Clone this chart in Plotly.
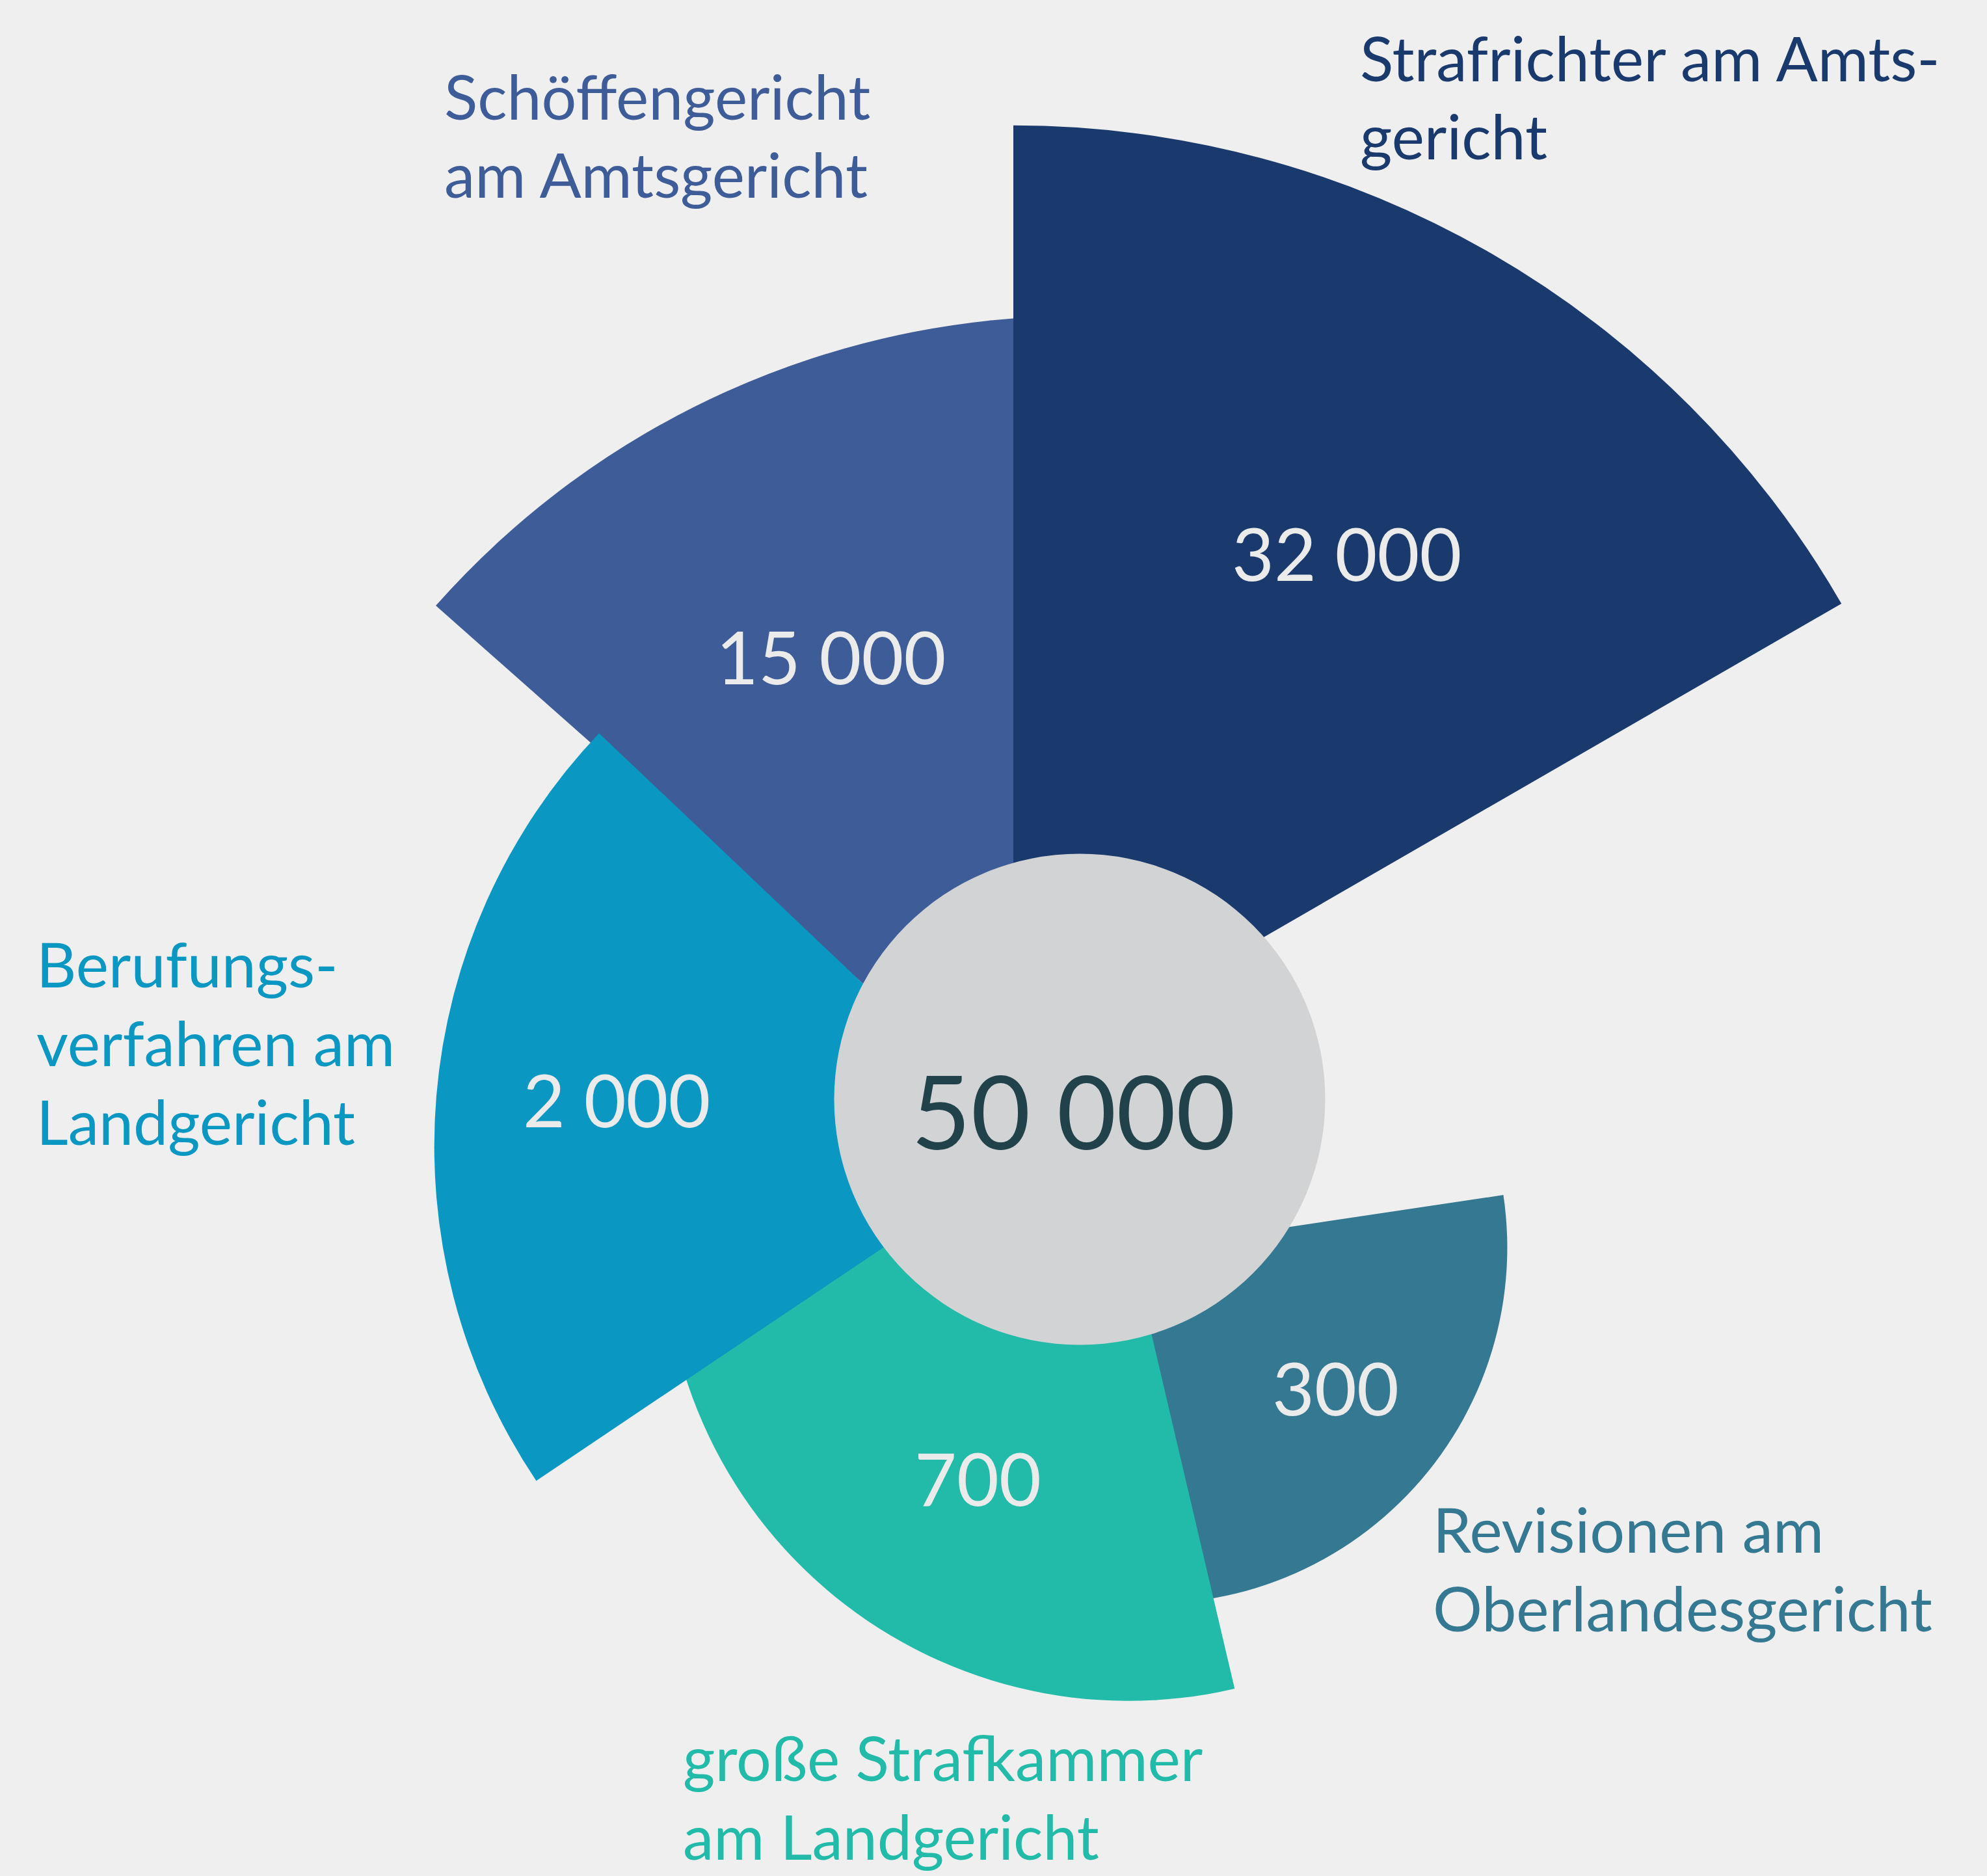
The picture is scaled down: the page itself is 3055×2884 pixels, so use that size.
import math
import plotly.graph_objects as go

# ---------------- data ----------------
categories = [
    "Strafrichter am Amtsgericht",
    "Schöffengericht am Amtsgericht",
    "Berufungsverfahren am Landgericht",
    "große Strafkammer am Landgericht",
    "Revisionen am Oberlandesgericht",
]
label_lines = [
    ["Strafrichter am Amts-", "gericht"],
    ["Schöffengericht", "am Amtsgericht"],
    ["Berufungs-", "verfahren am", "Landgericht"],
    ["große Strafkammer", "am Landgericht"],
    ["Revisionen am", "Oberlandesgericht"],
]
values = [32000, 15000, 2000, 700, 300]

# ---------------- style / layout ----------------
W, H = 3055, 2884
BG = "#EFEFEF"
colors = ["#1A3A6E", "#3E5D98", "#0A97C2", "#22BBA9", "#357891"]
VALUE_TEXT = "#EBEBEB"
TOTAL_TEXT = "#21414B"
FONT = "Lato"
LABEL_FS = 95
VALUE_FS = 112
TOTAL_FS = 158
ASC = 0.987   # font ascent (em)

# shared logarithmic radial scale
R_ORIGIN = 10 ** 1.274        # value at the centre of every sector
PX_PER_DECADE = 455

# sector geometry: vertex position (px) and angular span (deg)
geom = [
    dict(vertex=(1558, 1663), span=(30, 90)),
    dict(vertex=(1659, 1806), span=(90, 138.5)),
    dict(vertex=(1590, 1762), span=(136.5, 213.9)),
    dict(vertex=(1735, 1900), span=(175, 283.2)),
    dict(vertex=(1770, 1918), span=(-100, 8.5)),
]
draw_order = [1, 0, 4, 3, 2]

value_pos = [(2070, 849), (1277, 1009), (948, 1689), (1503, 2271), (2053, 2132)]
label_pos = [  # left x, first baseline, line step
    (2089, 124, 120),
    (681, 183, 120),
    (54, 1517, 121),
    (1048, 2737, 121),
    (2201, 2386, 121),
]
circle_c, circle_r = (1660, 1690), 377.5


def sector_bbox(s0, s1):
    arc = s1 - s0
    a0 = s0 % 360
    a1 = a0 + arc
    c = lambda a: math.cos(math.radians(a))
    s = lambda a: math.sin(math.radians(a))
    ax0, ay0, ax1, ay1 = c(a0), s(a0), c(a1), s(a1)
    if (a0 <= 90 and a1 >= 90) or (a0 > 90 and a1 >= 450):
        y1 = 1
    elif ay0 <= 0 and ay1 <= 0:
        y1 = 0
    else:
        y1 = max(ay0, ay1)
    if (a0 <= 270 and a1 >= 270) or (a0 > 270 and a1 >= 630):
        y0 = -1
    elif ay0 >= 0 and ay1 >= 0:
        y0 = 0
    else:
        y0 = min(ay0, ay1)
    if (a0 <= 0 and a1 >= 0) or (a0 > 0 and a1 >= 360):
        x1 = 1
    elif ax0 <= 0 and ax1 <= 0:
        x1 = 0
    else:
        x1 = max(ax0, ax1)
    if (a0 <= 180 and a1 >= 180) or (a0 > 180 and a1 >= 540):
        x0 = -1
    elif ax0 >= 0 and ax1 >= 0:
        x0 = 0
    else:
        x0 = min(ax0, ax1)
    return x0, y0, x1, y1


def clamp(v):
    return min(1.0, max(0.0, v))


fig = go.Figure()
polars = {}
lo = math.log10(R_ORIGIN)
for k, idx in enumerate(draw_order):
    pid = "polar" if k == 0 else f"polar{k + 1}"
    v = values[idx]
    cx, cy = geom[idx]["vertex"]
    t0, t1 = geom[idx]["span"]
    r_px = PX_PER_DECADE * (math.log10(v) - lo)
    S = r_px + 30
    s0, s1 = t0 - 3, t1 + 3
    bx0, by0, bx1, by1 = sector_bbox(s0, s1)
    dom_x = [clamp((cx + S * bx0) / W), clamp((cx + S * bx1) / W)]
    dom_y = [clamp(1 - (cy - S * by0) / H), clamp(1 - (cy - S * by1) / H)]
    fig.add_trace(go.Barpolar(
        r=[v - R_ORIGIN], base=R_ORIGIN, theta=[(t0 + t1) / 2], width=[t1 - t0],
        marker=dict(color=colors[idx], line=dict(width=0)),
        name=categories[idx], subplot=pid, hoverinfo="skip", showlegend=False,
    ))
    polars[pid] = dict(
        domain=dict(x=dom_x, y=dom_y), sector=[s0, s1],
        bgcolor="rgba(0,0,0,0)", hole=0,
        radialaxis=dict(type="log", range=[lo, lo + S / PX_PER_DECADE], visible=False,
                        showgrid=False, showline=False, showticklabels=False, ticks=""),
        angularaxis=dict(visible=False, showgrid=False, showline=False, showticklabels=False,
                         ticks="", rotation=0, direction="counterclockwise"),
    )
fig.update_layout(**polars)

# centre disc
ccx, ccy = circle_c
fig.add_shape(type="circle", xref="paper", yref="paper", layer="above",
              x0=(ccx - circle_r) / W, x1=(ccx + circle_r) / W,
              y0=1 - (ccy + circle_r) / H, y1=1 - (ccy - circle_r) / H,
              fillcolor="#D1D3D5", line=dict(width=0))


def fmt(n):
    return f"{n:,}".replace(",", " ")


ann = []
total = sum(values)
ann.append(dict(x=1650 / W, y=1 - 1706 / H, xref="paper", yref="paper", text=fmt(total),
                showarrow=False, xanchor="center", yanchor="middle",
                font=dict(family=FONT, size=TOTAL_FS, color=TOTAL_TEXT)))
for i, v in enumerate(values):
    px, py = value_pos[i]
    ann.append(dict(x=px / W, y=1 - py / H, xref="paper", yref="paper", text=fmt(v),
                    showarrow=False, xanchor="center", yanchor="middle",
                    font=dict(family=FONT, size=VALUE_FS, color=VALUE_TEXT)))
for i, lines in enumerate(label_lines):
    lx, base0, step = label_pos[i]
    for j, line in enumerate(lines):
        top = base0 + j * step - ASC * LABEL_FS - 1
        ann.append(dict(x=lx / W, y=1 - top / H, xref="paper", yref="paper", text=line,
                        showarrow=False, xanchor="left", yanchor="top",
                        font=dict(family=FONT, size=LABEL_FS, color=colors[i])))

fig.update_layout(
    width=W, height=H, autosize=False,
    margin=dict(l=0, r=0, t=0, b=0, pad=0),
    paper_bgcolor=BG, plot_bgcolor=BG,
    showlegend=False, annotations=ann,
)

fig.write_html("out.html", config={"displayModeBar": False, "staticPlot": True},
               post_script="document.body.style.margin='0';document.body.style.overflow='hidden';")
